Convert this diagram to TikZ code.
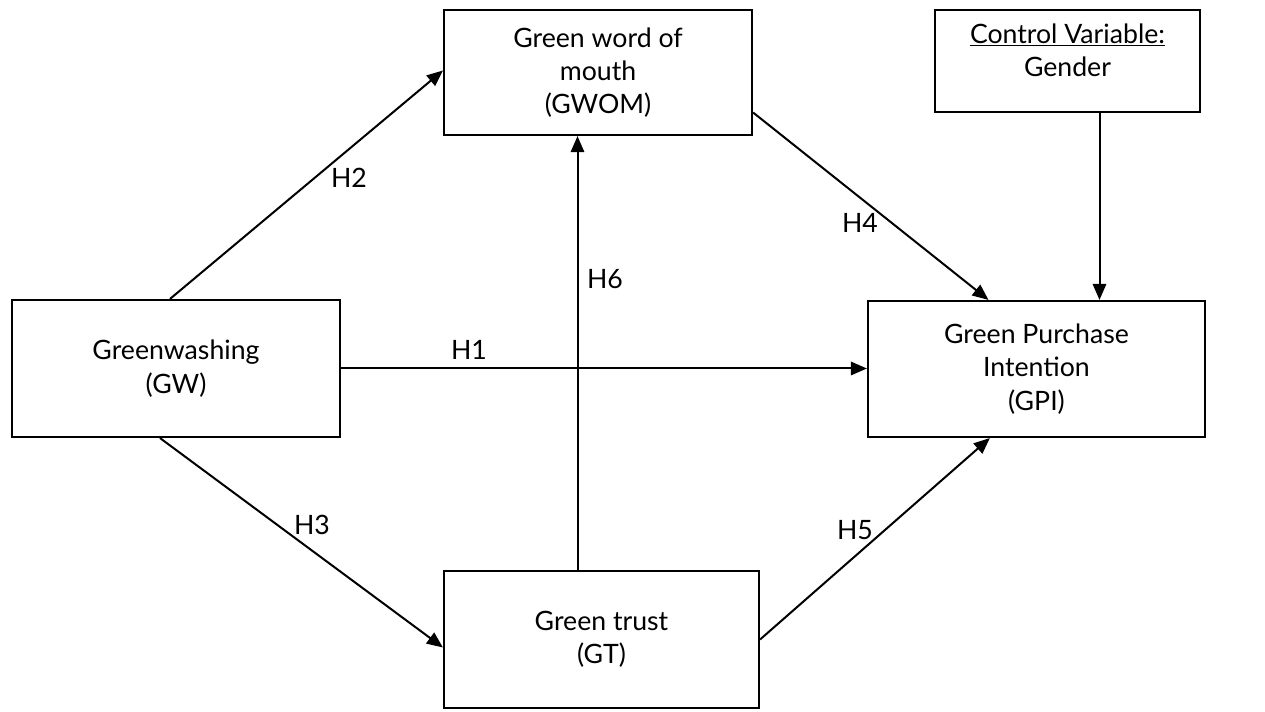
\documentclass[tikz,border=0pt]{standalone}
\usepackage{fontspec}
\setmainfont{Lato}
\usetikzlibrary{arrows.meta,calc}
\begin{document}
\begin{tikzpicture}[x=0.75pt,y=-0.75pt,
  box/.style={draw=black,line width=1.6pt,rectangle,inner sep=0pt,align=center,
    font=\fontsize{20}{25}\selectfont},
  txt/.style={align=center,font=\fontsize{20}{25}\selectfont,inner sep=0pt},
  conn/.style={draw=black,line width=1.5pt,-{Triangle[length=12pt,width=10pt]}},
  lbl/.style={font=\fontsize{20}{25}\selectfont,inner sep=0pt}]
\useasboundingbox (0,0) rectangle (1265,712);
\node[box,minimum width=246pt,minimum height=102.75pt] (gw) at (176,368.5) {Greenwashing\\(GW)};
\node[box,minimum width=231pt,minimum height=93.75pt] (gwom) at (598,72.5) {Green word of\\mouth\\(GWOM)};
\node[box,minimum width=198.75pt,minimum height=76.5pt] (ctrl) at (1067.5,61) {};
\node[txt] (ctrltext) at (1067.5,50) {\underline{Control Variable:}\\Gender};
\node[box,minimum width=252.75pt,minimum height=102pt] (gpi) at (1036.5,369) {Green Purchase\\Intention\\(GPI)};
\node[box,minimum width=236.25pt,minimum height=102.75pt] (gt) at (601.5,639.5) {Green trust\\(GT)};

\draw[conn] ([xshift=-4.5pt]gw.north) -- ([yshift=1.5pt]gwom.west);
\draw[conn] (gw.east) -- (gw.east -| gpi.west);
\draw[conn] ([xshift=-12pt]gw.south) -- ([yshift=-6pt]gt.west);
\draw[conn] ([xshift=-18pt]gt.north) -- ([xshift=-18pt]gt.north |- gwom.south);
\draw[conn] ([yshift=-30pt]gwom.east) -- ([xshift=-36pt]gpi.north);
\draw[conn] ([xshift=24pt]ctrl.south) -- ([xshift=24pt]ctrl.south |- gpi.north);
\draw[conn] (gt.east) -- ([xshift=-35pt]gpi.south);

\node[lbl] (h2) at (349,178) {H2};
\node[lbl] (h1) at (469,350) {H1};
\node[lbl] (h3) at (312,525) {H3};
\node[lbl] (h6) at (605,279) {H6};
\node[lbl] (h4) at (860,223) {H4};
\node[lbl] (h5) at (855,530) {H5};
\end{tikzpicture}
\end{document}
